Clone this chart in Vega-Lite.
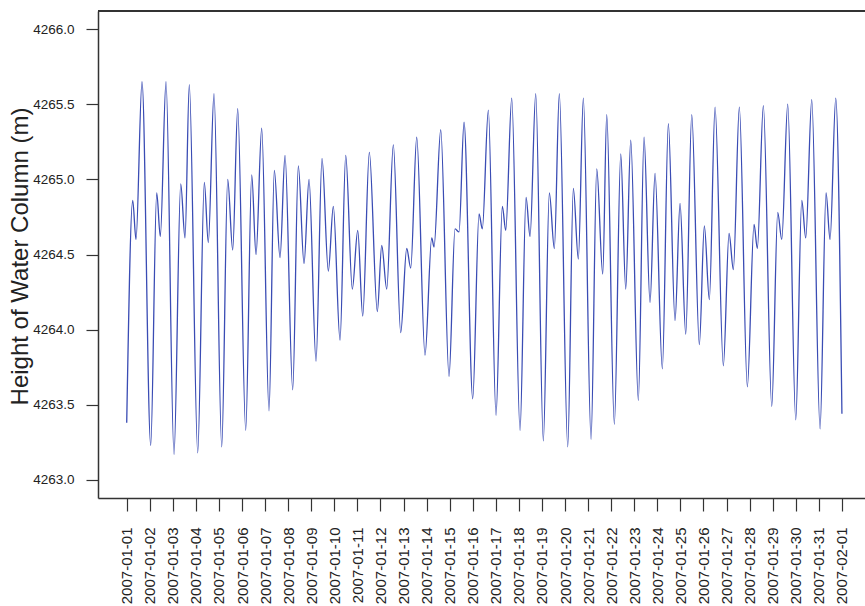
{
  "$schema": "https://vega.github.io/schema/vega-lite/v6.json",
  "autosize": {"type": "none"},
  "padding": {"left": 98, "top": 11, "right": 0, "bottom": 108},
  "width": 767,
  "height": 487,
  "background": "white",
  "config": {
    "view": {"stroke": null},
    "font": "Liberation Sans"
  },
  "data": {
    "values": [
      {"time": "2007-01-01T00:00", "height": 4263.38},
      {"time": "2007-01-01T06:14", "height": 4264.86},
      {"time": "2007-01-01T09:40", "height": 4264.60},
      {"time": "2007-01-01T15:55", "height": 4265.65},
      {"time": "2007-01-02T00:58", "height": 4263.23},
      {"time": "2007-01-02T07:13", "height": 4264.91},
      {"time": "2007-01-02T10:57", "height": 4264.62},
      {"time": "2007-01-02T16:53", "height": 4265.65},
      {"time": "2007-01-03T01:12", "height": 4263.17},
      {"time": "2007-01-03T08:11", "height": 4264.97},
      {"time": "2007-01-03T12:39", "height": 4264.61},
      {"time": "2007-01-03T17:07", "height": 4265.63},
      {"time": "2007-01-04T01:52", "height": 4263.18},
      {"time": "2007-01-04T08:44", "height": 4264.98},
      {"time": "2007-01-04T12:53", "height": 4264.58},
      {"time": "2007-01-04T18:49", "height": 4265.57},
      {"time": "2007-01-05T02:50", "height": 4263.22},
      {"time": "2007-01-05T09:04", "height": 4265.00},
      {"time": "2007-01-05T14:16", "height": 4264.53},
      {"time": "2007-01-05T19:28", "height": 4265.47},
      {"time": "2007-01-06T03:48", "height": 4263.33},
      {"time": "2007-01-06T10:02", "height": 4265.03},
      {"time": "2007-01-06T14:31", "height": 4264.50},
      {"time": "2007-01-06T20:26", "height": 4265.34},
      {"time": "2007-01-07T04:02", "height": 4263.46},
      {"time": "2007-01-07T09:33", "height": 4265.06},
      {"time": "2007-01-07T15:29", "height": 4264.48},
      {"time": "2007-01-07T20:41", "height": 4265.16},
      {"time": "2007-01-08T04:41", "height": 4263.60},
      {"time": "2007-01-08T10:31", "height": 4265.09},
      {"time": "2007-01-08T16:27", "height": 4264.44},
      {"time": "2007-01-08T21:39", "height": 4265.00},
      {"time": "2007-01-09T04:56", "height": 4263.79},
      {"time": "2007-01-09T11:10", "height": 4265.14},
      {"time": "2007-01-09T17:44", "height": 4264.39},
      {"time": "2007-01-09T22:56", "height": 4264.82},
      {"time": "2007-01-10T05:54", "height": 4263.93},
      {"time": "2007-01-10T11:50", "height": 4265.16},
      {"time": "2007-01-10T18:41", "height": 4264.27},
      {"time": "2007-01-11T00:19", "height": 4264.66},
      {"time": "2007-01-11T05:31", "height": 4264.09},
      {"time": "2007-01-11T12:23", "height": 4265.18},
      {"time": "2007-01-11T20:42", "height": 4264.12},
      {"time": "2007-01-12T01:17", "height": 4264.56},
      {"time": "2007-01-12T06:29", "height": 4264.27},
      {"time": "2007-01-12T13:21", "height": 4265.23},
      {"time": "2007-01-12T21:02", "height": 4263.98},
      {"time": "2007-01-13T03:17", "height": 4264.54},
      {"time": "2007-01-13T07:27", "height": 4264.41},
      {"time": "2007-01-13T13:41", "height": 4265.28},
      {"time": "2007-01-13T22:19", "height": 4263.83},
      {"time": "2007-01-14T05:17", "height": 4264.61},
      {"time": "2007-01-14T07:41", "height": 4264.55},
      {"time": "2007-01-14T14:40", "height": 4265.33},
      {"time": "2007-01-14T23:17", "height": 4263.69},
      {"time": "2007-01-15T05:32", "height": 4264.67},
      {"time": "2007-01-15T09:42", "height": 4264.65},
      {"time": "2007-01-15T14:54", "height": 4265.38},
      {"time": "2007-01-15T23:57", "height": 4263.54},
      {"time": "2007-01-16T06:30", "height": 4264.77},
      {"time": "2007-01-16T09:56", "height": 4264.67},
      {"time": "2007-01-16T16:11", "height": 4265.46},
      {"time": "2007-01-17T00:11", "height": 4263.43},
      {"time": "2007-01-17T06:44", "height": 4264.82},
      {"time": "2007-01-17T10:17", "height": 4264.66},
      {"time": "2007-01-17T16:31", "height": 4265.54},
      {"time": "2007-01-18T01:09", "height": 4263.33},
      {"time": "2007-01-18T07:24", "height": 4264.88},
      {"time": "2007-01-18T11:34", "height": 4264.62},
      {"time": "2007-01-18T17:29", "height": 4265.57},
      {"time": "2007-01-19T01:23", "height": 4263.26},
      {"time": "2007-01-19T07:38", "height": 4264.91},
      {"time": "2007-01-19T12:50", "height": 4264.54},
      {"time": "2007-01-19T18:02", "height": 4265.57},
      {"time": "2007-01-20T02:47", "height": 4263.22},
      {"time": "2007-01-20T08:36", "height": 4264.94},
      {"time": "2007-01-20T13:48", "height": 4264.47},
      {"time": "2007-01-20T19:01", "height": 4265.54},
      {"time": "2007-01-21T03:01", "height": 4263.27},
      {"time": "2007-01-21T08:57", "height": 4265.07},
      {"time": "2007-01-21T15:11", "height": 4264.37},
      {"time": "2007-01-21T19:21", "height": 4265.43},
      {"time": "2007-01-22T03:16", "height": 4263.37},
      {"time": "2007-01-22T09:55", "height": 4265.17},
      {"time": "2007-01-22T15:07", "height": 4264.27},
      {"time": "2007-01-22T20:19", "height": 4265.26},
      {"time": "2007-01-23T04:13", "height": 4263.53},
      {"time": "2007-01-23T10:09", "height": 4265.28},
      {"time": "2007-01-23T16:23", "height": 4264.18},
      {"time": "2007-01-23T21:35", "height": 4265.04},
      {"time": "2007-01-24T05:11", "height": 4263.74},
      {"time": "2007-01-24T11:26", "height": 4265.37},
      {"time": "2007-01-24T18:24", "height": 4264.06},
      {"time": "2007-01-24T23:36", "height": 4264.84},
      {"time": "2007-01-25T05:32", "height": 4263.97},
      {"time": "2007-01-25T11:46", "height": 4265.43},
      {"time": "2007-01-25T19:41", "height": 4263.90},
      {"time": "2007-01-26T00:53", "height": 4264.69},
      {"time": "2007-01-26T06:05", "height": 4264.20},
      {"time": "2007-01-26T12:01", "height": 4265.48},
      {"time": "2007-01-26T20:39", "height": 4263.76},
      {"time": "2007-01-27T02:35", "height": 4264.64},
      {"time": "2007-01-27T07:03", "height": 4264.40},
      {"time": "2007-01-27T13:17", "height": 4265.48},
      {"time": "2007-01-27T21:37", "height": 4263.62},
      {"time": "2007-01-28T04:35", "height": 4264.70},
      {"time": "2007-01-28T08:01", "height": 4264.54},
      {"time": "2007-01-28T14:16", "height": 4265.49},
      {"time": "2007-01-28T23:00", "height": 4263.49},
      {"time": "2007-01-29T05:14", "height": 4264.78},
      {"time": "2007-01-29T09:24", "height": 4264.60},
      {"time": "2007-01-29T15:38", "height": 4265.50},
      {"time": "2007-01-29T23:58", "height": 4263.40},
      {"time": "2007-01-30T06:13", "height": 4264.86},
      {"time": "2007-01-30T10:22", "height": 4264.61},
      {"time": "2007-01-30T16:37", "height": 4265.53},
      {"time": "2007-01-31T01:15", "height": 4263.34},
      {"time": "2007-01-31T07:29", "height": 4264.91},
      {"time": "2007-01-31T11:39", "height": 4264.60},
      {"time": "2007-01-31T17:35", "height": 4265.54},
      {"time": "2007-02-01T00:00", "height": 4263.44}
    ]
  },
  "layer": [
    {
      "mark": {"type": "rule", "color": "#333333", "strokeWidth": 1.5},
      "encoding": {"y": {"datum": 4266.12}}
    },
    {
      "mark": {"type": "line", "interpolate": "monotone", "color": "#3a4cb4", "strokeWidth": 1.3},
      "encoding": {
        "x": {
          "field": "time",
          "type": "temporal",
          "scale": {
            "domain": [
              {"year": 2006, "month": 12, "date": 30, "hours": 18, "minutes": 8},
              {"year": 2007, "month": 2, "date": 2, "hours": 0}
            ]
          },
          "axis": {
            "title": null,
            "values": [
              {"year": 2007, "month": 1, "date": 1}, {"year": 2007, "month": 1, "date": 2},
              {"year": 2007, "month": 1, "date": 3}, {"year": 2007, "month": 1, "date": 4},
              {"year": 2007, "month": 1, "date": 5}, {"year": 2007, "month": 1, "date": 6},
              {"year": 2007, "month": 1, "date": 7}, {"year": 2007, "month": 1, "date": 8},
              {"year": 2007, "month": 1, "date": 9}, {"year": 2007, "month": 1, "date": 10},
              {"year": 2007, "month": 1, "date": 11}, {"year": 2007, "month": 1, "date": 12},
              {"year": 2007, "month": 1, "date": 13}, {"year": 2007, "month": 1, "date": 14},
              {"year": 2007, "month": 1, "date": 15}, {"year": 2007, "month": 1, "date": 16},
              {"year": 2007, "month": 1, "date": 17}, {"year": 2007, "month": 1, "date": 18},
              {"year": 2007, "month": 1, "date": 19}, {"year": 2007, "month": 1, "date": 20},
              {"year": 2007, "month": 1, "date": 21}, {"year": 2007, "month": 1, "date": 22},
              {"year": 2007, "month": 1, "date": 23}, {"year": 2007, "month": 1, "date": 24},
              {"year": 2007, "month": 1, "date": 25}, {"year": 2007, "month": 1, "date": 26},
              {"year": 2007, "month": 1, "date": 27}, {"year": 2007, "month": 1, "date": 28},
              {"year": 2007, "month": 1, "date": 29}, {"year": 2007, "month": 1, "date": 30},
              {"year": 2007, "month": 1, "date": 31}, {"year": 2007, "month": 2, "date": 1}
            ],
            "format": "%Y-%m-%d",
            "labelAngle": 270,
            "labelAlign": "right",
            "labelBaseline": "middle",
            "labelPadding": 16,
            "labelFontSize": 15,
            "labelColor": "#222222",
            "labelOverlap": false,
            "labelFlush": false,
            "labelBound": false,
            "tickSize": 13,
            "tickColor": "#333333",
            "tickWidth": 1.2,
            "domain": true,
            "domainColor": "#333333",
            "domainWidth": 1.5,
            "grid": false
          }
        },
        "y": {
          "field": "height",
          "type": "quantitative",
          "scale": {"domain": [4262.88, 4266.12], "zero": false, "nice": false},
          "axis": {
            "title": "Height of Water Column (m)",
            "values": [4263, 4263.5, 4264, 4264.5, 4265, 4265.5, 4266],
            "format": ".1f",
            "labelFontSize": 13.5,
            "labelColor": "#222222",
            "labelPadding": 12,
            "tickSize": 12,
            "tickColor": "#333333",
            "tickWidth": 1.2,
            "titleFontSize": 24,
            "titleFontWeight": "normal",
            "titleColor": "#222222",
            "titleX": -66,
            "titleY": 245,
            "domain": true,
            "domainColor": "#333333",
            "domainWidth": 1.5,
            "grid": false
          }
        }
      }
    }
  ]
}
